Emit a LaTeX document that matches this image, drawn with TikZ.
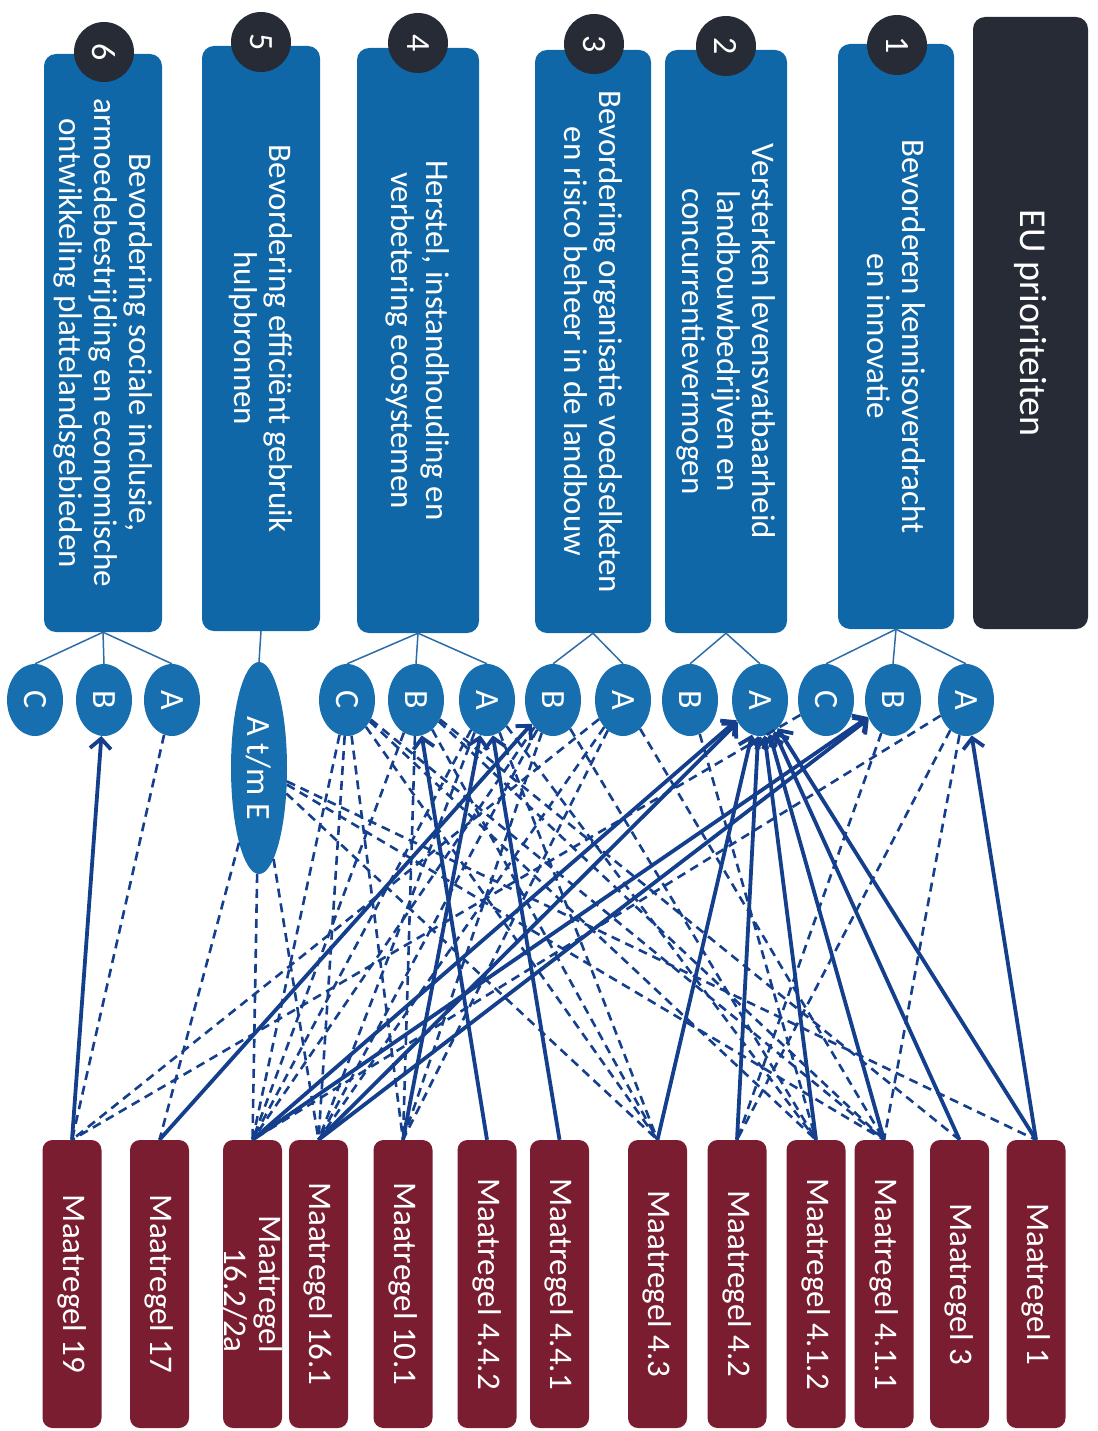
\documentclass[tikz,border=0pt]{standalone}
\usepackage{fontspec}
\setmainfont{Carlito}
\usetikzlibrary{shapes.geometric,arrows.meta}
\definecolor{pblue}{HTML}{0F67A8}
\definecolor{eblue}{HTML}{176FB0}
\definecolor{darkbox}{HTML}{262B35}
\definecolor{maroon}{HTML}{7B1D30}
\definecolor{lblue}{HTML}{143F8C}
\definecolor{tblue}{HTML}{2C6DA8}
\tikzset{
  pbox/.style={fill=pblue, rounded corners=12pt, inner sep=0pt},
  eubox/.style={fill=darkbox, rounded corners=12pt, inner sep=0pt},
  numc/.style={circle, fill=darkbox, minimum size=60pt, inner sep=0pt},
  numt/.style={text=white, rotate=-90, font=\fontsize{34}{36}\selectfont},
  ptext/.style={text=white, rotate=-90, align=center, font=\fontsize{33}{35}\selectfont},
  eutext/.style={text=white, rotate=-90, font=\fontsize{38}{40}\selectfont},
  ell/.style={ellipse, fill=eblue, minimum width=56pt, minimum height=72pt, inner sep=0pt},
  etext/.style={text=white, rotate=-90, font=\fontsize{34}{36}\selectfont},
  mbox/.style={fill=maroon, rounded corners=10pt, minimum width=59pt, minimum height=288pt, inner sep=0pt},
  mtext/.style={text=white, rotate=-90, align=right, font=\fontsize{33}{35}\selectfont},
  tree/.style={draw=tblue, line width=1.5pt},
  sol/.style={draw=lblue, line width=3.8pt, -{Straight Barb[length=10pt,width=21pt]}},
  dsh/.style={draw=lblue, line width=2.6pt, dash pattern=on 9pt off 6pt}
}
\begin{document}
\begin{tikzpicture}[x=1pt,y=-1pt]
\useasboundingbox (0,0) rectangle (1097,1431);
% priority boxes
\node[eubox, minimum width=115pt, minimum height=612pt] (eu) at (1030.5,323) {};
\node[eutext] (eut) at (eu) {EU prioriteiten};
\node[pbox, minimum width=116pt, minimum height=585pt] (p1) at (896,336.5) {};
\node[pbox, minimum width=122pt, minimum height=583pt] (p2) at (726,341.5) {};
\node[pbox, minimum width=116pt, minimum height=583pt] (p3) at (593,341.5) {};
\node[pbox, minimum width=122pt, minimum height=585pt] (p4) at (418,340.5) {};
\node[pbox, minimum width=118pt, minimum height=585pt] (p5) at (261,338.5) {};
\node[pbox, minimum width=118pt, minimum height=578pt] (p6) at (103,343) {};
\node[ptext] (p1t) at (p1) {Bevorderen kennisoverdracht\\en innovatie};
\node[ptext] (p2t) at (p2) {Versterken levensvatbaarheid\\landbouwbedrijven en\\concurrentievermogen};
\node[ptext] (p3t) at (p3) {Bevordering organisatie voedselketen\\en risico beheer in de landbouw};
\node[ptext] (p4t) at (p4) {Herstel, instandhouding en\\verbetering ecosystemen};
\node[ptext] (p5t) at (p5) {Bevordering efficiënt gebruik\\hulpbronnen};
\node[ptext] (p6t) at (p6) {Bevordering sociale inclusie,\\armoedebestrijding en economische\\ontwikkeling plattelandsgebieden};
% number circles
\node[numc] (c1) at (897,45) {}; \node[numt] at (c1) {1};
\node[numc] (c2) at (726,46) {}; \node[numt] at (c2) {2};
\node[numc] (c3) at (594,44) {}; \node[numt] at (c3) {3};
\node[numc] (c4) at (418,43) {}; \node[numt] at (c4) {4};
\node[numc] (c5) at (261,42) {}; \node[numt] at (c5) {5};
\node[numc] (c6) at (104,52) {}; \node[numt] at (c6) {6};
% ellipses
\foreach \n/\x/\l in {C6/35/C, B6/104/B, A6/172/A, C4/347/C, B4/416/B, A4/487/A, B3/553/B, A3/623/A, B2/690/B, A2/760/A, C1/826/C, B1/893/B, A1/966/A}{
  \node[ell] (\n) at (\x,700) {};
  \node[etext] (\n t) at (\n) {\l};
}
\node[ell, minimum height=212pt] (atme) at (259,768) {};
\node[etext] (atmet) at (atme) {A t/m E};
% tree lines
\foreach \p/\e in {p1/C1, p1/B1, p1/A1, p2/B2, p2/A2, p3/B3, p3/A3, p4/C4, p4/B4, p4/A4, p5/atme, p6/C6, p6/B6, p6/A6}{
  \draw[tree] (\p.south) -- (\e.north);
}
% maatregel boxes
\foreach \n/\x/\t in {m19/72/{Maatregel 19}, m17/159.5/{Maatregel 17}, m162/252.5/{Maatregel\\16.2/2a}, m161/318.5/{Maatregel 16.1}, m101/403/{Maatregel 10.1}, m442/487/{Maatregel 4.4.2}, m441/559.5/{Maatregel 4.4.1}, m43/657.5/{Maatregel 4.3}, m42/737/{Maatregel 4.2}, m412/816/{Maatregel 4.1.2}, m411/884/{Maatregel 4.1.1}, m3/959.5/{Maatregel 3}, m1/1036/{Maatregel 1}}{
  \node[mbox] (\n) at (\x,1284) {};
  \node[mtext] (\n t) at (\n) {\t};
}
% dashed connectors
\foreach \e/\m in {A6/m19, A3/m19, C1/m19,
  atme/m17, atme/m162, atme/m161, atme/m43, atme/m411, atme/m1,
  C4/m162, C4/m161, C4/m101, C4/m43, C4/m412, C4/m411,
  B4/m162, B4/m101, B4/m43, B4/m411, B4/m3,
  A4/m162, A4/m161, A4/m412, A4/m43,
  B3/m162, B3/m161, B3/m101, B3/m412,
  A3/m161, A3/m101, A3/m411,
  B2/m412, B1/m42,
  A1/m162, A1/m42, A1/m411}{
  \draw[dsh] (\e) -- (\m.north);
}
% solid arrows
\foreach \m/\e in {m19/B6, m17/B3, m162/A2, m162/B1, m161/A2, m161/B1, m101/A4, m442/B4, m441/A4, m43/A2, m42/A2, m412/A2, m411/A2, m3/A2, m1/A2, m1/A1}{
  \draw[sol] (\m.north) -- (\e);
}
\end{tikzpicture}
\end{document}
